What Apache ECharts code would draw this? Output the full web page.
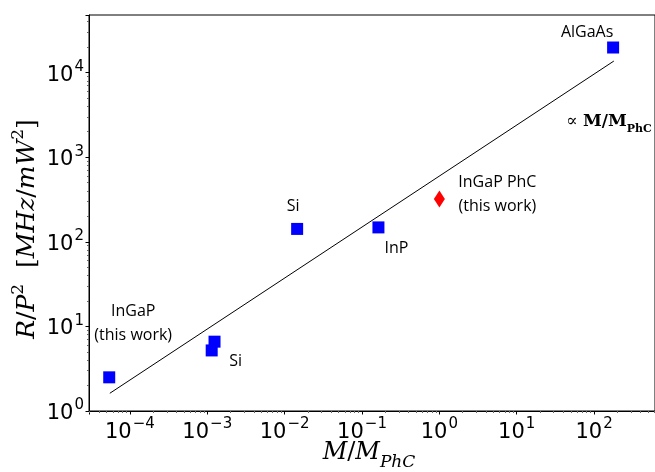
<!DOCTYPE html>
<html><head><meta charset="utf-8">
<script src="https://cdn.jsdelivr.net/npm/echarts@6/dist/echarts.min.js"></script>
<style>html,body{margin:0;padding:0;background:#fff}#c{width:655px;height:472px}</style>
</head><body><div id="c"></div>
<script>
// ---- data ----
const sampleLabels = ['AlGaAs', 'Si', 'InP', 'InGaP\n(this work)', '', 'Si'];
const massRatio = [176, 0.0145, 0.163, 5.4e-5, 1.24e-3, 1.14e-3];
const rOverP2 = [19800, 142, 148, 2.5, 6.6, 5.2];
const phcLabels = ['InGaP PhC\n(this work)'];
const phcMassRatio = [1.0];
const phcROverP2 = [320];
const fitMassRatio = [5.5e-5, 180];
const fitROverP2 = [1.62, 13700];
const xTickExponents = [-4, -3, -2, -1, 0, 1, 2];
const yTickExponents = [0, 1, 2, 3, 4];
const xLimits = [Math.pow(10, -4.529), Math.pow(10, 2.787)];
const yLimits = [1, Math.pow(10, 4.681)];

// label offsets (style)
const sampleOffsets = [[-26, -15], [-4, -22], [18, 21], [24, -54], [0, 0], [24, 11]];

const textFont = '"Open Sans", sans-serif';
const mathFont = '"DejaVu Serif", serif';

function tickFmt(list) {
  return function (v) {
    const e = Math.round(Math.log10(v));
    if (Math.abs(Math.log10(v) - e) > 1e-6 || list.indexOf(e) < 0) return '';
    return '{b|10}{s|' + String(e).replace('-', '\u2212') + '}';
  };
}
const tickRich = {
  b: { fontFamily: '"DejaVu Sans", sans-serif', fontSize: 21, color: '#000', lineHeight: 26, verticalAlign: 'bottom' },
  s: { fontFamily: '"DejaVu Sans", sans-serif', fontSize: 15, color: '#000', lineHeight: 26, verticalAlign: 'top', padding: [0, 0, 0, 1] }
};

const blueData = massRatio.map((x, i) => ({
  value: [x, rOverP2[i]],
  name: sampleLabels[i],
  label: { offset: sampleOffsets[i] }
}));
const redData = phcMassRatio.map((x, i) => ({
  value: [x, phcROverP2[i]],
  name: phcLabels[i],
  label: { offset: [58, -5] }
}));
const fitData = fitMassRatio.map((x, i) => ({
  value: [x, fitROverP2[i]],
  label: { show: i === 1, offset: [-5, 63] }
}));

const tickStyle = { show: true, length: 3.5, lineStyle: { color: '#000' } };
const minorStyle = { show: true, splitNumber: 9, length: 2, lineStyle: { color: '#666', width: 1 } };

const chart = echarts.init(document.getElementById('c'), null, { renderer: 'canvas' });
chart.setOption({
  animation: false,
  backgroundColor: '#fff',
  grid: { left: 89, right: -1, top: 15, bottom: 61, show: true, borderColor: '#000', borderWidth: 1, backgroundColor: 'transparent' },
  xAxis: {
    type: 'log', logBase: 10, min: xLimits[0], max: xLimits[1],
    axisLine: { show: true, lineStyle: { color: '#000', width: 1 } },
    axisTick: tickStyle,
    minorTick: minorStyle,
    splitLine: { show: false },
    axisLabel: { formatter: tickFmt(xTickExponents), rich: tickRich, margin: 6, showMinLabel: false, showMaxLabel: false },
  },
  yAxis: {
    type: 'log', logBase: 10, min: yLimits[0], max: yLimits[1],
    axisLine: { show: true, lineStyle: { color: '#000', width: 1 } },
    axisTick: tickStyle,
    minorTick: minorStyle,
    splitLine: { show: false },
    axisLabel: { formatter: tickFmt(yTickExponents), rich: tickRich, margin: 5, showMaxLabel: false },
  },
  graphic: [
    {
      type: 'text', x: 25, y: 229, rotation: Math.PI / 2,
      style: {
        text: '{i|R}{r|/}{i|P}{s|2}{r|  [}{i|MHz}{r|/}{i|mW}{s|2}{r|]}',
        align: 'center', verticalAlign: 'middle',
        rich: {
          i: { fontFamily: mathFont, fontStyle: 'italic', fontSize: 25, lineHeight: 30, verticalAlign: 'bottom', fill: '#000' },
          r: { fontFamily: mathFont, fontSize: 25, lineHeight: 30, verticalAlign: 'bottom', fill: '#000' },
          s: { fontFamily: mathFont, fontSize: 17, lineHeight: 30, verticalAlign: 'top', fill: '#000' }
        }
      }
    },
    {
      type: 'text', x: 369, y: 456,
      style: {
        text: '{i|M}{r|/}{i|M}{u|PhC}',
        align: 'center', verticalAlign: 'middle',
        rich: {
          i: { fontFamily: mathFont, fontStyle: 'italic', fontSize: 24, lineHeight: 30, verticalAlign: 'top', fill: '#000' },
          r: { fontFamily: mathFont, fontSize: 24, lineHeight: 30, verticalAlign: 'top', fill: '#000' },
          u: { fontFamily: mathFont, fontStyle: 'italic', fontSize: 17, lineHeight: 30, verticalAlign: 'bottom', fill: '#000' }
        }
      }
    }
  ],
  series: [
    {
      type: 'line', data: fitData, symbol: 'circle', symbolSize: 0, showSymbol: true, z: 1,
      lineStyle: { color: '#000', width: 1 }, itemStyle: { color: '#000', opacity: 1 },
      label: {
        position: 'inside', align: 'center', verticalAlign: 'middle',
        formatter: '{p|\u221D }{m|M/M}{u|PhC}',
        rich: {
          p: { fontFamily: mathFont, fontSize: 17, color: '#000', lineHeight: 22, verticalAlign: 'top' },
          m: { fontFamily: mathFont, fontWeight: 'bold', fontSize: 17, color: '#000', lineHeight: 22, verticalAlign: 'top' },
          u: { fontFamily: mathFont, fontWeight: 'bold', fontSize: 11, color: '#000', lineHeight: 22, verticalAlign: 'bottom' }
        }
      },
      emphasis: { disabled: true }
    },
    {
      type: 'scatter', data: blueData, symbol: 'rect', symbolSize: 12, z: 3,
      itemStyle: { color: '#0000ff', opacity: 1 },
      label: {
        show: true, position: 'inside', formatter: '{b}', color: '#000', opacity: 1,
        fontFamily: textFont, fontSize: 16, lineHeight: 24, align: 'center', verticalAlign: 'middle'
      },
      emphasis: { disabled: true }
    },
    {
      type: 'scatter', data: redData, symbol: 'diamond', symbolSize: [11, 17], z: 3,
      itemStyle: { color: '#ff0000', opacity: 1 },
      label: {
        show: true, position: 'inside', formatter: '{b}', color: '#000', opacity: 1,
        fontFamily: textFont, fontSize: 16, lineHeight: 24, align: 'center', verticalAlign: 'middle'
      },
      emphasis: { disabled: true }
    }
  ]
});
</script></body></html>
